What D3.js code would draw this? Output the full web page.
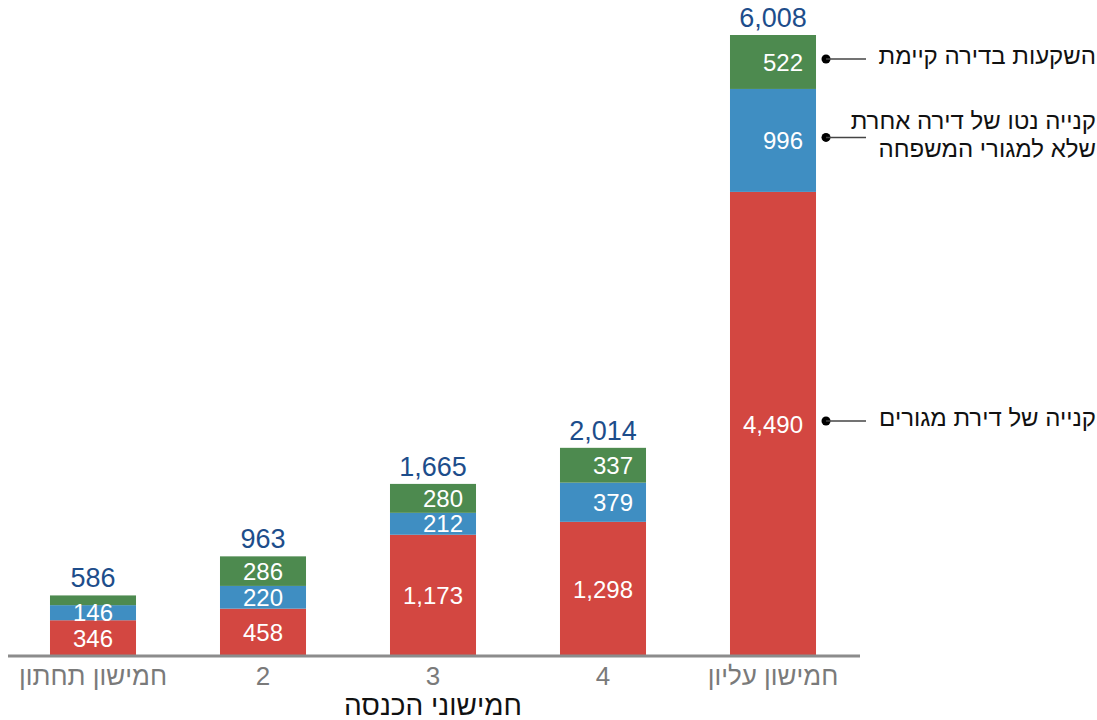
<!DOCTYPE html>
<html>
<head>
<meta charset="utf-8">
<script src="https://cdn.jsdelivr.net/npm/d3@7"></script>
<style>
  body { margin: 0; background: #fff; }
  svg text { font-family: "Liberation Sans", Arial, sans-serif; }
</style>
</head>
<body>
<div id="chart"></div>
<script>
// Income quintiles
const categories = ['חמישון תחתון', '2', '3', '4', 'חמישון עליון'];

// Series values (bottom to top)
const ownHome = [346, 458, 1173, 1298, 4490];
const otherHome = [146, 220, 212, 379, 996];
const existingHome = [94, 286, 280, 337, 522];
const totals = [586, 963, 1665, 2014, 6008];

const seriesNames = [
  ['קנייה של דירת מגורים'],
  ['קנייה נטו של דירה אחרת', 'שלא למגורי המשפחה'],
  ['השקעות בדירה קיימת']
];
const seriesColors = ['#d34741', '#3f8ec2', '#4d8a4f'];
const axisTitle = 'חמישוני הכנסה';

const width = 1097;
const height = 720;

const svg = d3.select('#chart')
  .append('svg')
  .attr('width', width)
  .attr('height', height);

const x = d3.scaleBand()
  .domain(categories)
  .range([8, 858])
  .paddingInner(0.494)
  .paddingOuter(0.247);

const y = d3.scaleLinear()
  .domain([0, d3.max(totals)])
  .range([656, 35]);

// Build stacked table
const table = categories.map((c, i) => ({
  cat: c,
  s0: ownHome[i],
  s1: otherHome[i],
  s2: existingHome[i]
}));
const stacked = d3.stack().keys(['s0', 's1', 's2'])(table);
const fmt = d3.format(',');

const layers = svg.selectAll('.layer')
  .data(stacked)
  .enter()
  .append('g')
  .attr('class', 'layer')
  .attr('fill', (d, i) => seriesColors[i]);

layers.selectAll('rect')
  .data(d => d)
  .enter()
  .append('rect')
  .attr('x', d => x(d.data.cat))
  .attr('y', d => y(d[1]))
  .attr('width', x.bandwidth())
  .attr('height', d => y(d[0]) - y(d[1]));

// Value labels: right-aligned per bar on the widest label
const labelG = svg.append('g');
categories.forEach((c, ci) => {
  const segs = stacked.map(s => s[ci]).filter(d => y(d[0]) - y(d[1]) >= 15);
  const texts = segs.map(d => labelG.append('text')
    .attr('y', (y(d[0]) + y(d[1])) / 2)
    .attr('dy', '0.36em')
    .attr('fill', '#fff')
    .attr('font-size', 24)
    .attr('text-anchor', 'end')
    .text(fmt(d[1] - d[0])));
  const maxW = d3.max(texts, t => t.node().getComputedTextLength());
  texts.forEach(t => t.attr('x', x(c) + x.bandwidth() / 2 + maxW / 2));
});

// Totals
svg.append('g')
  .selectAll('text')
  .data(totals)
  .enter()
  .append('text')
  .attr('x', (d, i) => x(categories[i]) + x.bandwidth() / 2)
  .attr('y', d => y(d) - 8)
  .attr('text-anchor', 'middle')
  .attr('fill', '#1d4d8b')
  .attr('font-size', 27)
  .text(d => fmt(d));

// Axis
const xAxis = svg.append('g')
  .attr('transform', `translate(0,${y(0)})`)
  .call(d3.axisBottom(x).tickSize(0).tickPadding(11));
xAxis.select('.domain')
  .attr('d', 'M8,0H860')
  .attr('stroke', '#8c8c8c')
  .attr('stroke-width', 3);
xAxis.selectAll('.tick text')
  .attr('font-size', 26)
  .attr('fill', '#7a7a7a')
  .attr('font-family', '"Liberation Sans", Arial, sans-serif');

svg.append('text')
  .attr('x', x(categories[2]) + x.bandwidth() / 2)
  .attr('y', 715)
  .attr('text-anchor', 'middle')
  .attr('font-size', 28)
  .attr('fill', '#111')
  .text(axisTitle);

// Series labels with leaders, beside last bar
const last = categories.length - 1;
const lastX = x(categories[last]) + x.bandwidth();
const legend = svg.append('g');
stacked.forEach((s, i) => {
  const d = s[last];
  const cy = (y(d[0]) + y(d[1])) / 2 - 3;
  legend.append('circle')
    .attr('cx', lastX + 10)
    .attr('cy', cy)
    .attr('r', 4.5)
    .attr('fill', '#000');
  legend.append('line')
    .attr('x1', lastX + 10)
    .attr('x2', lastX + 50)
    .attr('y1', cy)
    .attr('y2', cy)
    .attr('stroke', '#444')
    .attr('stroke-width', 1.5);
  const lines = seriesNames[i];
  const lh = 28;
  lines.forEach((ln, k) => {
    legend.append('text')
      .attr('x', width - 1)
      .attr('y', cy - 3 + (k - (lines.length - 1) / 2) * lh)
      .attr('dy', '0.35em')
      .attr('text-anchor', 'end')
      .attr('font-size', 24)
      .attr('fill', '#111')
      .text(ln);
  });
});
</script>
</body>
</html>
